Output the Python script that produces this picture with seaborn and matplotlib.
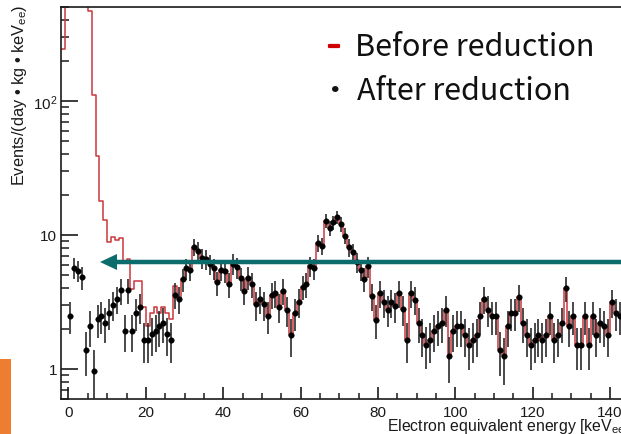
import numpy as np
import pandas as pd
import matplotlib
matplotlib.use("Agg")
import matplotlib.pyplot as plt
import matplotlib.patheffects as pe
from matplotlib.patches import Rectangle, FancyArrow
from matplotlib.ticker import MultipleLocator, LogLocator, FuncFormatter, NullFormatter
import seaborn as sns

# ---------------------------------------------------------------------------
# Event rates per 1 keV_ee bin, in events/(day kg keV_ee)
# ---------------------------------------------------------------------------
# "After reduction": bins [0,1), [1,2), ... [142,143)
after_start = 0
after_rate = [
    2.50, 5.67, 5.42, 4.83, 1.38, 2.08, 0.97, 2.35, 2.49, 2.20,
    2.63, 3.02, 3.33, 3.86, 1.93, 3.89, 1.93, 2.62, 2.90, 1.65,
    1.65, 1.82, 1.93, 2.08, 2.20, 1.82, 1.65, 3.59, 3.33, 4.69,
    5.64, 5.51, 8.13, 7.64, 6.70, 6.62, 6.08, 5.64, 4.43, 5.51,
    5.38, 4.29, 6.10, 5.74, 4.75, 3.84, 4.81, 4.29, 3.04, 3.33,
    3.04, 2.50, 3.59, 3.69, 2.92, 3.84, 2.76, 1.80, 2.62, 3.18,
    4.11, 4.30, 5.87, 5.64, 8.71, 8.32, 12.8, 11.2, 12.4, 13.6,
    12.1, 9.88, 8.09, 7.43, 6.25, 5.51, 4.70, 5.84, 3.49, 2.33,
    3.69, 3.15, 2.77, 3.15, 2.94, 3.69, 2.80, 1.65, 3.69, 3.29,
    2.20, 1.80, 1.52, 1.65, 1.93, 2.09, 2.20, 2.77, 1.26, 1.93,
    2.08, 2.08, 1.79, 1.51, 1.65, 1.79, 2.47, 3.33, 2.77, 2.47,
    2.47, 1.39, 1.24, 2.08, 2.62, 2.62, 3.47, 2.20, 1.79, 1.51,
    1.65, 1.79, 1.65, 1.79, 2.47, 1.65, 1.79, 2.20, 4.00, 2.08,
    2.47, 1.51, 1.51, 2.47, 1.51, 2.47, 1.79, 2.20, 2.08, 1.79,
    3.15, 2.62, 2.47,
]

# "Before reduction": low-energy bins [-2,-1) ... [28,29); above 29 keV
# the two spectra coincide
before_start = -2
before_low = [
    244, 900, 2400, 3100, 2600, 1700, 850,
    472, 111, 38.7, 17.9, 12.9,
    8.8, 9.7, 9.1, 9.5, 6.3,
    6.6, 3.95, 4.56, 4.56, 2.92,
    2.10, 2.62, 2.88, 2.62, 2.88,
    2.62, 2.36, 4.18, 3.33,
]
merge_bin = 29

exposure = 5.5  # kg*day per bin, sets the Poisson error bars

xticks_major, xticks_minor = 20, 5
xlim = (-1.9, 150.0)
ylim = (0.597, 503.0)

x_label = "Electron equivalent energy [keV$_{\\mathrm{ee}}$]"
y_label = "Events/(day \u2022 kg \u2022 keV$_{\\mathrm{ee}}$)"
legend_before = "Before reduction"
legend_after = "After reduction"

# ---------------------------------------------------------------------------
after = np.array(after_rate, dtype=float)
after_lo = np.arange(after_start, after_start + len(after))
before = np.array(before_low + after_rate[merge_bin - after_start:], dtype=float)
before_range = (before_start, before_start + len(before))

df_before = pd.DataFrame({"energy": np.arange(before_start, before_range[1]) + 0.5,
                          "rate": before})
df_after = pd.DataFrame({"energy": after_lo + 0.5, "rate": after,
                         "err": np.sqrt(after * exposure) / exposure})

sns.set_style("ticks")
plt.rcParams["font.family"] = ["Liberation Sans", "DejaVu Sans"]
plt.rcParams["mathtext.fontset"] = "custom"
plt.rcParams["mathtext.rm"] = "Liberation Sans"
plt.rcParams["mathtext.it"] = "Liberation Sans:italic"
plt.rcParams["mathtext.bf"] = "Liberation Sans:bold"

W, H = 621, 435
fig = plt.figure(figsize=(W / 100, H / 100), dpi=100)
fig.patch.set_facecolor("white")

ax_left, ax_top, ax_bottom = 61.15, 8.0, 400.0
px_per_kev = 3.868
ax_w = (xlim[1] - xlim[0]) * px_per_kev
ax = fig.add_axes([ax_left / W, 1 - ax_bottom / H, ax_w / W, (ax_bottom - ax_top) / H])
ax.set_facecolor("white")
ax.set_yscale("log")

red = "#c9373a"
sns.histplot(data=df_before, x="energy", weights="rate", binwidth=1,
             binrange=before_range, element="step", fill=False, color=red,
             linewidth=1.1, ax=ax, zorder=2)

ax.errorbar(df_after["energy"], df_after["rate"], yerr=df_after["err"], fmt="none",
            ecolor="#2b2b2b", elinewidth=1.2, capsize=0, zorder=3)
sns.scatterplot(data=df_after, x="energy", y="rate", color="black", s=16,
                edgecolor="black", linewidth=0.3, ax=ax, zorder=4)

ax.set_xlim(*xlim)
ax.set_ylim(*ylim)
ax.set_xlabel("")
ax.set_ylabel("")

for side in ("left", "bottom", "top", "right"):
    ax.spines[side].set_visible(True)
    ax.spines[side].set_color("#1a1a1a")
    ax.spines[side].set_linewidth(1.2)

ax.xaxis.set_major_locator(MultipleLocator(xticks_major))
ax.xaxis.set_minor_locator(MultipleLocator(xticks_minor))
ax.yaxis.set_major_locator(LogLocator(base=10))
ax.yaxis.set_minor_locator(LogLocator(base=10, subs=np.arange(2, 10)))
ax.yaxis.set_minor_formatter(NullFormatter())


def ylab(v, pos):
    if v >= 99:
        return "$10^{%d}$" % int(round(np.log10(v)))
    return "%g" % v


ax.yaxis.set_major_formatter(FuncFormatter(ylab))
ax.tick_params(axis="both", which="both", direction="in", color="#1a1a1a",
               top=False, right=False, labelsize=11, labelcolor="#1a1a1a")
ax.tick_params(axis="y", which="major", length=12, width=1.2, pad=3)
ax.tick_params(axis="y", which="minor", length=6, width=1.1)
ax.tick_params(axis="x", which="major", length=8.5, width=1.2, pad=4.5)
ax.tick_params(axis="x", which="minor", length=4.5, width=1.1)

# axis titles, placed in ROOT style
fig.text(387 / W, 1 - 431 / H, x_label, ha="left", va="baseline",
         fontsize=11.4, color="#1a1a1a")
fig.text(19.5 / W, 1 - 4 / H, y_label, rotation=90, ha="center", va="top",
         fontsize=11.8, color="#1a1a1a")

# threshold arrow
teal = "#0c6b6b"
y_arrow = 1 - 263 / H
fig.patches.append(FancyArrow(660 / W, y_arrow, (100 - 660) / W, 0,
                              width=4.5 / H, head_width=16 / H, head_length=17 / W,
                              length_includes_head=True, color=teal, lw=0,
                              transform=fig.transFigure, figure=fig))

# side marker
fig.patches.append(Rectangle((0, 0), 11 / W, 75 / H, color="#ed7d31",
                             transform=fig.transFigure, figure=fig, lw=0))

# legend text
lfont = ["Noto Sans CJK JP", "DejaVu Sans"]
t_before = fig.text(355 / W, 1 - 56 / H, legend_before, ha="left", va="baseline",
                    fontsize=22, family=lfont, color="#111111")
t_after = fig.text(357 / W, 1 - 100 / H, legend_after, ha="left", va="baseline",
                   fontsize=22, family=lfont, color="#111111")
fig.canvas.draw()
rend = fig.canvas.get_renderer()
w_b = t_before.get_window_extent(renderer=rend).width
size = 22 * (240 / w_b)
t_before.set_fontsize(size)
t_after.set_fontsize(size)
fig.text(334 / W, 1 - 54 / H, "\u2013", ha="center", va="baseline", fontsize=size * 0.8,
         family=lfont, color="#d00000", fontweight="bold",
         path_effects=[pe.withStroke(linewidth=1.6, foreground="#d00000")])
fig.text(335 / W, 1 - 100 / H, "\u30fb", ha="center", va="baseline", fontsize=size,
         family=lfont, color="#111111")

fig.savefig("out.png", dpi=100)
